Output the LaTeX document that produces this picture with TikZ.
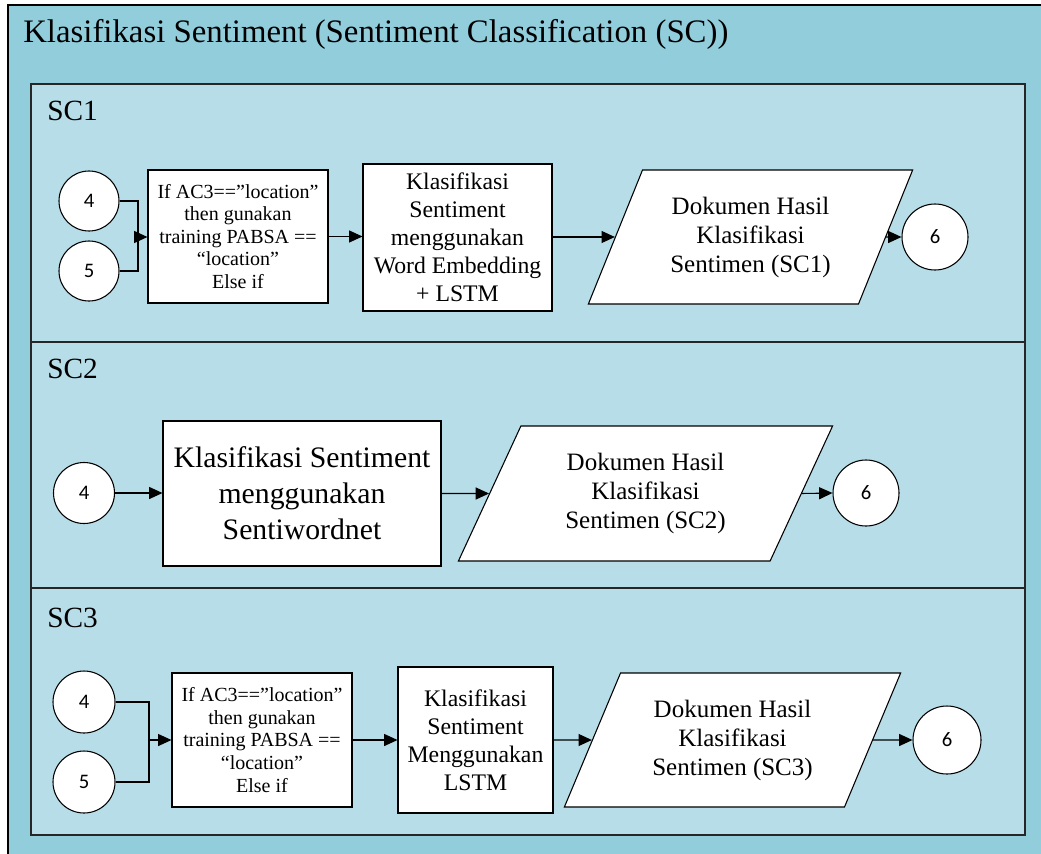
\documentclass[tikz,border=0pt]{standalone}
\usepackage{fontspec}
\setmainfont{Liberation Serif}
\newfontfamily\numfont{Carlito}
\usetikzlibrary{arrows.meta,shapes.geometric}

\definecolor{outerblue}{RGB}{146,205,220}
\definecolor{panelblue}{RGB}{183,221,232}

\begin{document}
\begin{tikzpicture}[x=0.75pt,y=-0.75pt,
  panel/.style={draw=black!85, line width=1.4pt, fill=panelblue},
  conn/.style={circle, draw, fill=white, line width=0.8pt, inner sep=0pt,
    font=\numfont\fontsize{15.5pt}{15.5pt}\selectfont},
  proc/.style={draw, fill=white, line width=0.8pt, inner sep=0pt, align=center},
  iodata/.style={trapezium, trapezium left angle=63.5, trapezium right angle=116.5,
    trapezium stretches=true, draw, fill=white, line width=0.8pt, inner sep=0pt,
    align=center, font=\fontsize{18.75pt}{21.75pt}\selectfont},
  flow/.style={line width=0.8pt, -{Triangle[length=10pt,width=9pt]}},
  link/.style={line width=0.8pt},
  small/.style={font=\fontsize{15pt}{16.9pt}\selectfont},
  medium/.style={font=\fontsize{17.8pt}{21pt}\selectfont},
  large/.style={font=\fontsize{22.3pt}{27pt}\selectfont},
  tag/.style={anchor=base west, inner sep=0pt, font=\fontsize{22pt}{22pt}\selectfont}]

\useasboundingbox (0,0) rectangle (1041,853);
\fill[white] (0,0) rectangle (1041,853);

% outer frame
\draw[fill=outerblue, line width=1.2pt] (8,5) rectangle (1060,870);
\node[anchor=base west, inner sep=0pt, font=\fontsize{24.6pt}{24.6pt}\selectfont]
  (title) at (23,42) {Klasifikasi Sentiment (Sentiment Classification (SC))};

% swimlane panels
\draw[panel] (31,84) rectangle (1025,342);
\draw[panel] (31,342) rectangle (1025,588);
\draw[panel] (31,588) rectangle (1025,835);
\node[tag] (lab1) at (47,120) {SC1};
\node[tag] (lab2) at (47,378) {SC2};
\node[tag] (lab3) at (47,627) {SC3};

% ---- SC1 ----
\node[conn, minimum size=45pt] (a4) at (89,201) {4};
\node[conn, minimum size=45pt] (a5) at (89,271) {5};
\node[proc, small, minimum width=135pt, minimum height=99.75pt] (a1) at (238,236.5)
  {If AC3==”location”\\then gunakan\\training PABSA ==\\“location”\\Else if};
\node[proc, medium, minimum width=141.75pt, minimum height=110.25pt] (a2) at (457.5,237.5)
  {Klasifikasi\\Sentiment\\menggunakan\\Word Embedding\\+ LSTM};
\node[iodata, minimum width=243.75pt, minimum height=100.5pt] (a3) at (750.5,237)
  {Dokumen Hasil\\Klasifikasi\\Sentimen (SC1)};
\node[conn, minimum size=49.5pt] (a6) at (935,237) {6};
\coordinate (aj) at (138,237);
\draw[link] (a4.east) -| (aj);
\draw[link] (a5.east) -| (aj);
\draw[flow] (aj) -- (aj -| a1.west);
\draw[flow] (a1.east) -- (a1.east -| a2.west);
\draw[flow] (a2.east |- a3.west) -- (a3.west);
\draw[flow] (a3.east) -- (a6.west);

% ---- SC2 ----
\node[conn, minimum size=45.75pt] (b4) at (84,493) {4};
\node[proc, large, minimum width=208.5pt, minimum height=108.75pt] (b1) at (302,493.5)
  {Klasifikasi Sentiment\\menggunakan\\Sentiwordnet};
\node[iodata, minimum width=281.25pt, minimum height=101.25pt] (b3) at (645.5,493.5)
  {Dokumen Hasil\\Klasifikasi\\Sentimen (SC2)};
\node[conn, minimum size=49.5pt] (b6) at (866,493) {6};
\draw[flow] (b4.east) -- (b4.east -| b1.west);
\draw[flow] (b1.east) -- (b3.west);
\draw[flow] (b3.east) -- (b6.west);

% ---- SC3 ----
\node[conn, minimum size=46.5pt] (c4) at (84,702) {4};
\node[conn, minimum size=46.5pt] (c5) at (84,782) {5};
\node[proc, small, minimum width=135pt, minimum height=100.5pt] (c1) at (262,740)
  {If AC3==”location”\\then gunakan\\training PABSA ==\\“location”\\Else if};
\node[proc, medium, minimum width=116.25pt, minimum height=109.5pt] (c2) at (475.5,740)
  {Klasifikasi\\Sentiment\\Menggunakan\\LSTM};
\node[iodata, minimum width=252.75pt, minimum height=100.5pt] (c3) at (732.5,740)
  {Dokumen Hasil\\Klasifikasi\\Sentimen (SC3)};
\node[conn, minimum size=51pt] (c6) at (947,740) {6};
\coordinate (cj) at (149,740);
\draw[link] (c4.east) -| (cj);
\draw[link] (c5.east) -| (cj);
\draw[flow] (cj) -- (c1.west);
\draw[flow] (c1.east) -- (c2.west);
\draw[flow] (c2.east) -- (c3.west);
\draw[flow] (c3.east) -- (c6.west);
\end{tikzpicture}
\end{document}
